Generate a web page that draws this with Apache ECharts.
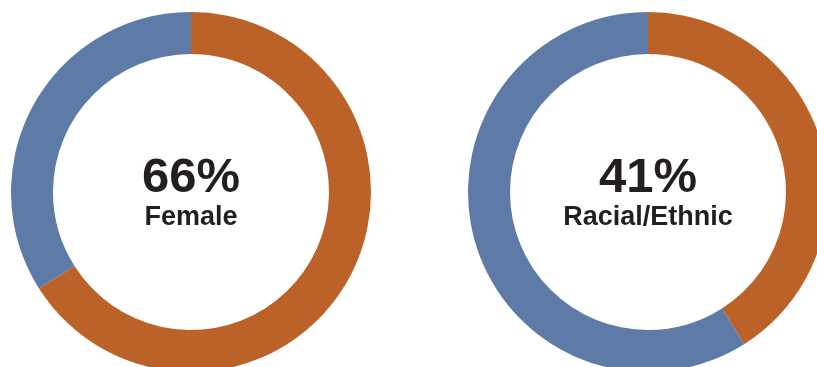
<!DOCTYPE html>
<html>
<head>
<meta charset="utf-8">
<script src="https://cdn.jsdelivr.net/npm/echarts@6/dist/echarts.min.js"></script>
<style>
html,body{margin:0;padding:0;background:#fff;}
#main{width:817px;height:367px;}
</style>
</head>
<body>
<div id="main"></div>
<script>
var categories = ['Yes', 'No'];
var femaleValues = [66, 34];
var racialValues = [41, 59];
var bigLabels = ['66%', '41%'];
var subLabels = ['Female', 'Racial/Ethnic'];
var colors = ['#BA6228', '#5E7BA8'];

var chart = echarts.init(document.getElementById('main'), null, {renderer: 'canvas'});

function pieSeries(values, cx) {
  return {
    type: 'pie',
    center: [cx, 192],
    radius: [138, 180],
    startAngle: 90,
    clockwise: true,
    silent: true,
    label: {show: false},
    labelLine: {show: false},
    itemStyle: {borderWidth: 0},
    emphasis: {disabled: true},
    data: categories.map(function (c, i) {
      return {name: c, value: values[i], itemStyle: {color: colors[i]}};
    })
  };
}

var centers = [191, 648];
var graphics = [];
centers.forEach(function (cx, i) {
  graphics.push({
    type: 'text', x: cx, y: 178,
    style: {text: bigLabels[i], x: 0, y: 0, align: 'center', verticalAlign: 'middle',
      font: 'bold 49px "Liberation Sans", Arial, sans-serif', fill: '#231F20'}
  });
  graphics.push({
    type: 'text', x: cx, y: 218,
    style: {text: subLabels[i], x: 0, y: 0, align: 'center', verticalAlign: 'middle',
      font: 'bold 27px "Liberation Sans", Arial, sans-serif', fill: '#231F20'}
  });
});

chart.setOption({
  animation: false,
  backgroundColor: '#ffffff',
  series: [pieSeries(femaleValues, centers[0]), pieSeries(racialValues, centers[1])],
  graphic: graphics
});
</script>
</body>
</html>
